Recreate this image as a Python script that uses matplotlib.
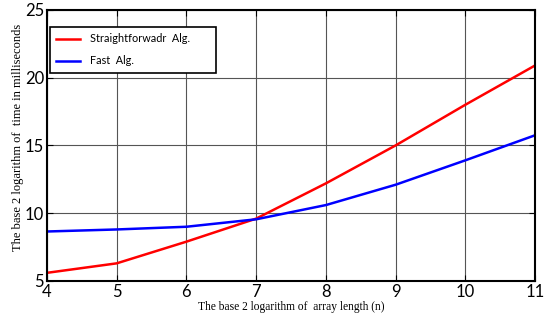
import matplotlib
matplotlib.use("Agg")
import matplotlib.pyplot as plt

x_vals = [4, 5, 6, 7, 8, 9, 10, 11]
straight = [5.6, 6.3, 7.9, 9.6, 12.2, 15.0, 18.0, 20.9]
fast = [8.65, 8.8, 9.0, 9.55, 10.6, 12.1, 13.9, 15.75]
x_ticks = [4, 5, 6, 7, 8, 9, 10, 11]
y_ticks = [5, 10, 15, 20, 25]

fig = plt.figure(figsize=(5.45, 3.2), dpi=100)
ax = fig.add_axes([0.0862, 0.122, 0.8955, 0.847])

ax.plot(x_vals, straight, color="#ff0000", lw=1.8, label="Straightforwadr  Alg.")
ax.plot(x_vals, fast, color="#0000ff", lw=1.8, label="Fast  Alg.")

ax.set_xlim(4, 11)
ax.set_ylim(5, 25)
ax.set_xticks(x_ticks)
ax.set_yticks(y_ticks)
ax.grid(True, color="#555555", lw=0.8)
ax.tick_params(direction="in", top=True, right=True, length=4, pad=2,
               labelsize=12)
for lbl in ax.get_xticklabels() + ax.get_yticklabels():
    lbl.set_family(["Lato", "DejaVu Sans"])
for sp in ax.spines.values():
    sp.set_linewidth(1.5)

ax.set_xlabel("The base 2 logarithm of  array length (n)", family="Liberation Serif",
              fontsize=8.3, labelpad=1)
ax.set_ylabel("The base 2 logarithm of  time in milliseconds", family="Liberation Serif",
              fontsize=9)
ax.yaxis.set_label_coords(-0.048, 0.53)

leg = ax.legend(loc="upper left", bbox_to_anchor=(0.006, 0.5, 0.34, 0.437),
                mode="expand", borderaxespad=0,
                fancybox=False, framealpha=1, edgecolor="black",
                prop={"family": "Lato", "size": 7.8},
                handlelength=2.2, borderpad=0.6, labelspacing=1.0, handletextpad=0.9)
leg.get_frame().set_linewidth(1.2)

fig.savefig("out.png", dpi=100)
